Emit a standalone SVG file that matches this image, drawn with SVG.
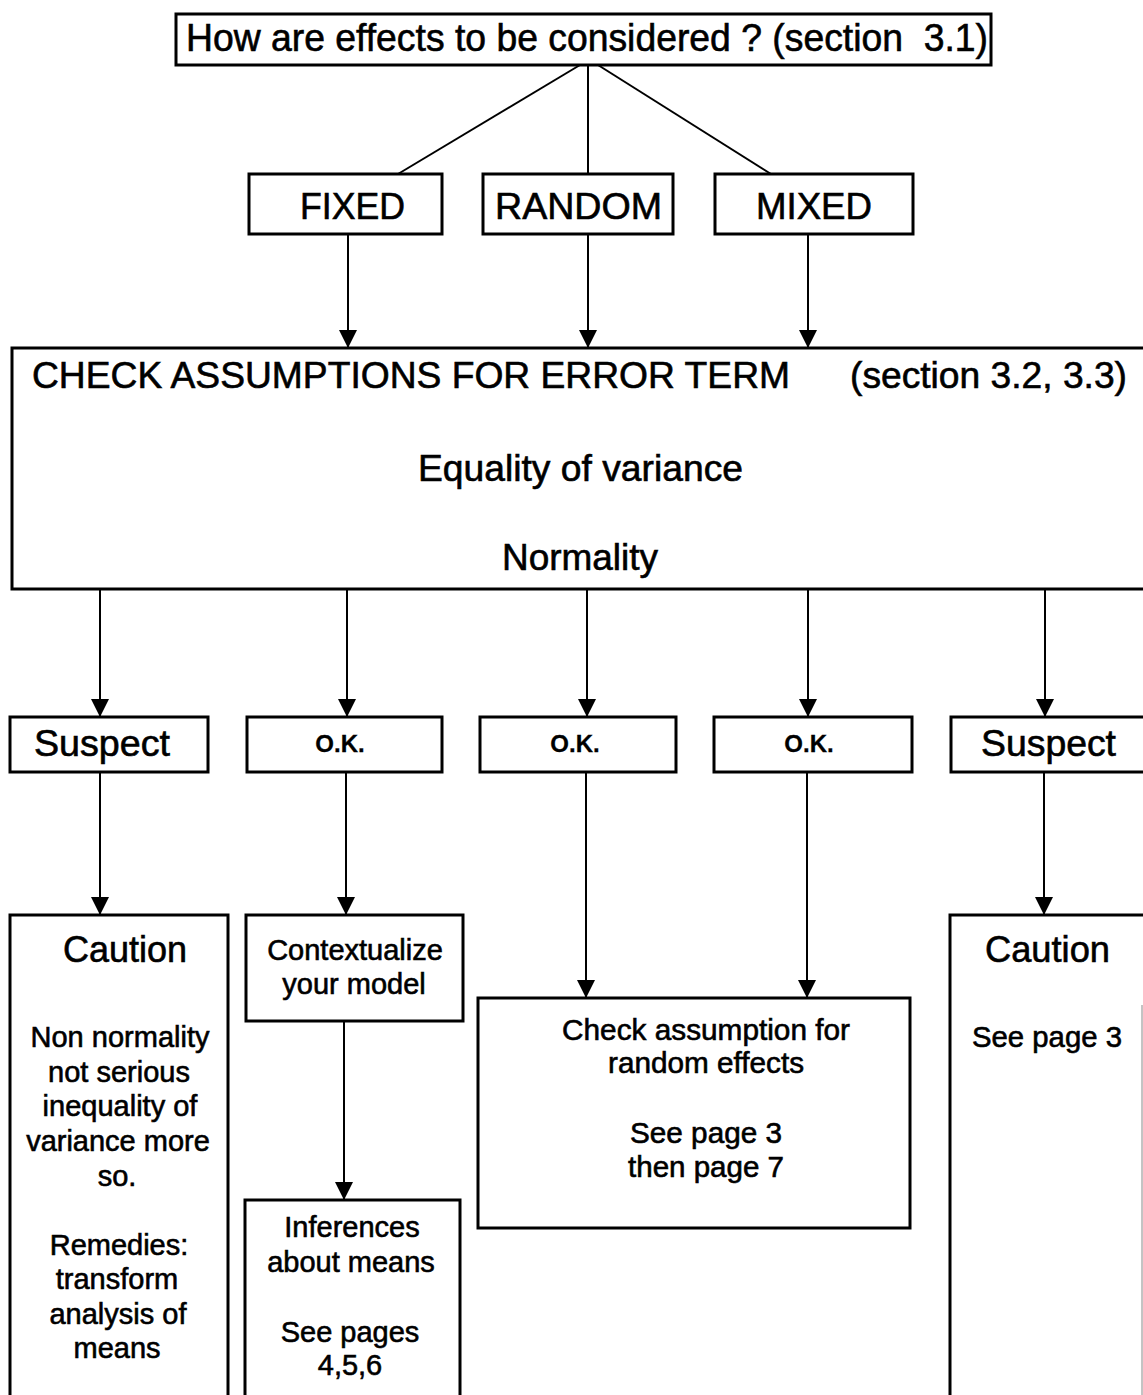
<svg xmlns="http://www.w3.org/2000/svg" width="1143" height="1395" viewBox="0 0 1143 1395">
  <style>
    .box { fill: #fff; stroke: #000; stroke-width: 3; }
    .edge { fill: none; stroke: #000; stroke-width: 2; }
    .arrow { fill: none; stroke: #000; stroke-width: 2; marker-end: url(#head); }
    text { font-family: "Liberation Sans", Arial, sans-serif; fill: #000; stroke: #000; stroke-width: 0.6; }
    .big { font-size: 38px; }
    .mid { font-size: 36px; }
    .body { font-size: 29px; }
    .ok { font-size: 24px; font-weight: bold; stroke-width: 0.3; }
    .c { text-anchor: middle; }
    .pre { white-space: pre; }
  </style>
  <defs>
    <marker id="head" viewBox="0 0 18 18" refX="18" refY="9" markerWidth="18" markerHeight="18" markerUnits="userSpaceOnUse" orient="auto">
      <path d="M0,0 L18,9 L0,18 z" fill="#000"/>
    </marker>
  </defs>

  <rect width="1143" height="1395" fill="#fff"/>

  <!-- connectors -->
  <g id="connectors">
    <line class="edge" x1="580" y1="65" x2="398" y2="174"/>
    <line class="edge" x1="588" y1="65" x2="588" y2="174"/>
    <line class="edge" x1="598" y1="65" x2="771" y2="174"/>

    <line class="arrow" x1="348" y1="234" x2="348" y2="348"/>
    <line class="arrow" x1="588" y1="234" x2="588" y2="348"/>
    <line class="arrow" x1="808" y1="234" x2="808" y2="348"/>

    <line class="arrow" x1="100" y1="590" x2="100" y2="717"/>
    <line class="arrow" x1="347" y1="590" x2="347" y2="717"/>
    <line class="arrow" x1="587" y1="590" x2="587" y2="717"/>
    <line class="arrow" x1="808" y1="590" x2="808" y2="717"/>
    <line class="arrow" x1="1045" y1="590" x2="1045" y2="717"/>

    <line class="arrow" x1="100" y1="772" x2="100" y2="915"/>
    <line class="arrow" x1="346" y1="772" x2="346" y2="915"/>
    <line class="arrow" x1="586" y1="772" x2="586" y2="998"/>
    <line class="arrow" x1="807" y1="772" x2="807" y2="998"/>
    <line class="arrow" x1="1044" y1="772" x2="1044" y2="915"/>

    <line class="arrow" x1="344" y1="1021" x2="344" y2="1200"/>
  </g>

  <!-- question -->
  <g id="question">
    <rect class="box" x="176" y="14" width="815" height="51"/>
    <text class="big pre" x="186" y="51" textLength="802" lengthAdjust="spacingAndGlyphs">How are effects to be considered ? (section  3.1)</text>
  </g>

  <!-- effect types -->
  <g id="fixed">
    <rect class="box" x="249" y="174" width="193" height="60"/>
    <text class="mid" x="300" y="219" textLength="105" lengthAdjust="spacingAndGlyphs">FIXED</text>
  </g>
  <g id="random">
    <rect class="box" x="483" y="174" width="190" height="60"/>
    <text class="mid" x="495" y="219" textLength="167" lengthAdjust="spacingAndGlyphs">RANDOM</text>
  </g>
  <g id="mixed">
    <rect class="box" x="715" y="174" width="198" height="60"/>
    <text class="mid" x="756" y="219" textLength="116" lengthAdjust="spacingAndGlyphs">MIXED</text>
  </g>

  <!-- error term checks -->
  <g id="check-error">
    <rect class="box" x="12" y="348" width="1145" height="241"/>
    <text class="mid" x="32" y="388" textLength="758" lengthAdjust="spacingAndGlyphs">CHECK ASSUMPTIONS FOR ERROR TERM</text>
    <text class="mid" x="850" y="388" textLength="277" lengthAdjust="spacingAndGlyphs">(section 3.2, 3.3)</text>
    <text class="mid" x="418" y="481" textLength="325" lengthAdjust="spacingAndGlyphs">Equality of variance</text>
    <text class="mid" x="502" y="570" textLength="156" lengthAdjust="spacingAndGlyphs">Normality</text>
  </g>

  <!-- outcomes -->
  <g id="suspect-left">
    <rect class="box" x="10" y="717" width="198" height="55"/>
    <text class="mid" x="34" y="756" textLength="136" lengthAdjust="spacingAndGlyphs">Suspect</text>
  </g>
  <g id="ok-fixed">
    <rect class="box" x="247" y="717" width="195" height="55"/>
    <text class="ok c" x="340" y="752">O.K.</text>
  </g>
  <g id="ok-random">
    <rect class="box" x="480" y="717" width="196" height="55"/>
    <text class="ok c" x="575" y="752">O.K.</text>
  </g>
  <g id="ok-mixed">
    <rect class="box" x="714" y="717" width="198" height="55"/>
    <text class="ok c" x="809" y="752">O.K.</text>
  </g>
  <g id="suspect-right">
    <rect class="box" x="951" y="717" width="200" height="55"/>
    <text class="mid" x="981" y="756" textLength="135" lengthAdjust="spacingAndGlyphs">Suspect</text>
  </g>

  <!-- results -->
  <g id="caution-left">
    <rect class="box" x="10" y="915" width="218" height="500"/>
    <text class="mid c" x="125" y="962">Caution</text>
    <text class="body c" x="120" y="1047">Non normality</text>
    <text class="body c" x="119" y="1082">not serious</text>
    <text class="body c" x="120" y="1116">inequality of</text>
    <text class="body c" x="118" y="1151">variance more</text>
    <text class="body c" x="117" y="1186">so.</text>
    <text class="body c" x="119" y="1255">Remedies:</text>
    <text class="body c" x="117" y="1289">transform</text>
    <text class="body c" x="118" y="1324">analysis of</text>
    <text class="body c" x="117" y="1358">means</text>
  </g>

  <g id="contextualize">
    <rect class="box" x="246" y="915" width="217" height="106"/>
    <text class="body c" x="355" y="960">Contextualize</text>
    <text class="body c" x="354" y="994">your model</text>
  </g>

  <g id="inferences">
    <rect class="box" x="245" y="1200" width="215" height="220"/>
    <text class="body c" x="352" y="1237">Inferences</text>
    <text class="body c" x="351" y="1272">about means</text>
    <text class="body c" x="350" y="1342">See pages</text>
    <text class="body c" x="350" y="1375">4,5,6</text>
  </g>

  <g id="check-random">
    <rect class="box" x="478" y="998" width="432" height="230"/>
    <text class="body" x="562" y="1040" textLength="288" lengthAdjust="spacingAndGlyphs">Check assumption for</text>
    <text class="body" x="608" y="1073" textLength="196" lengthAdjust="spacingAndGlyphs">random effects</text>
    <text class="body" x="630" y="1143" textLength="152" lengthAdjust="spacingAndGlyphs">See page 3</text>
    <text class="body" x="628" y="1177" textLength="156" lengthAdjust="spacingAndGlyphs">then page 7</text>
  </g>

  <g id="caution-right">
    <rect class="box" x="950" y="915" width="220" height="500"/>
    <line x1="1142" y1="1005" x2="1142" y2="1395" stroke="#888" stroke-width="1"/>
    <text class="mid" x="985" y="962" textLength="125" lengthAdjust="spacingAndGlyphs">Caution</text>
    <text class="body" x="972" y="1047" textLength="150" lengthAdjust="spacingAndGlyphs">See page 3</text>
  </g>
</svg>
